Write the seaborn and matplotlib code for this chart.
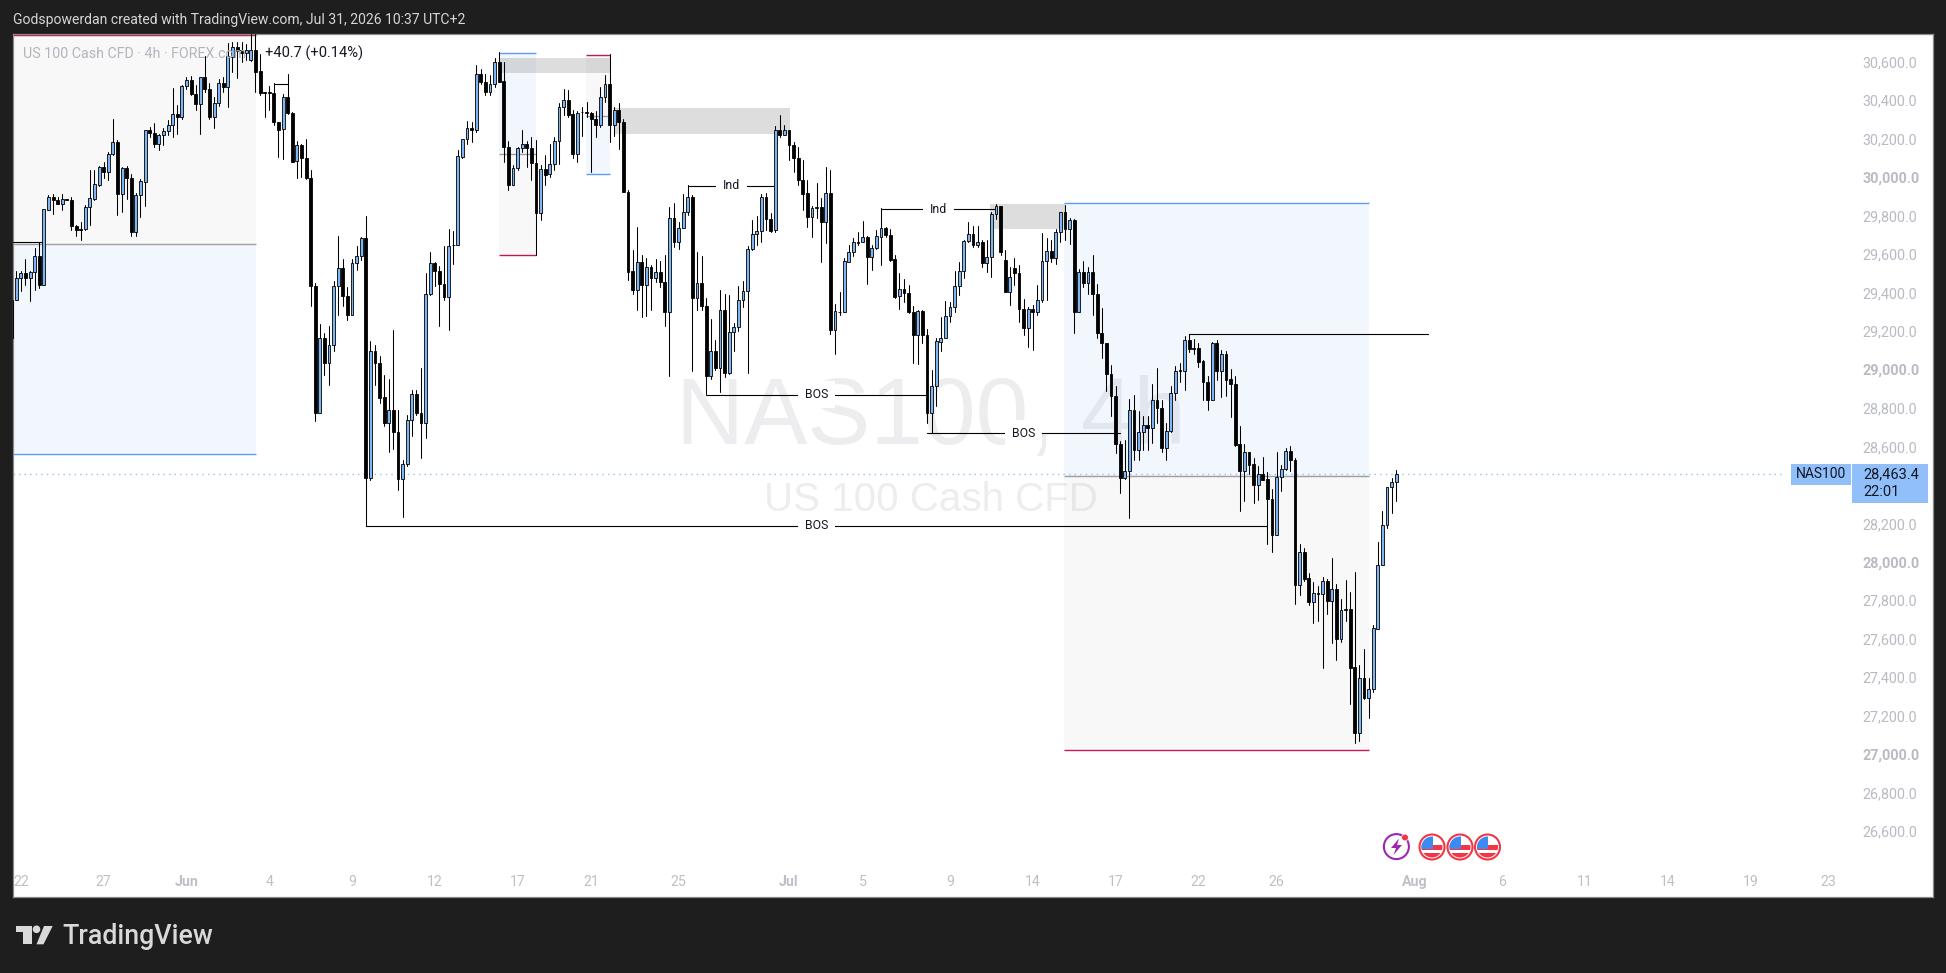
import numpy as np
import pandas as pd
import matplotlib
matplotlib.use("Agg")
import matplotlib.pyplot as plt
from matplotlib.patches import Rectangle, Circle, Polygon
from matplotlib.transforms import ScaledTranslation
import seaborn as sns

opens = [
29369,29367,29481,29509,29481,29514,29596,29445,29838,29904,
29887,29866,29894,29890,29755,29738,29738,29852,29895,29968,
30060,30032,30128,30190,29920,30055,30003,29722,29913,29985,
30252,30237,30178,30225,30247,30278,30336,30323,30481,30512,
30438,30386,30528,30466,30320,30393,30497,30476,30634,30686,
30670,30655,30617,30669,30559,30448,30448,30445,30297,30258,
30424,30341,30091,30174,30107,30003,29443,28781,29171,29044,
29135,29440,29535,29388,29292,29559,29596,29691,28443,29102,
29041,28864,28729,28797,28682,28438,28516,28746,28881,28780,
28728,29400,29561,29521,29453,29384,29654,29653,30115,30206,
30263,30251,30545,30505,30453,30491,30606,30509,30167,29965,
30055,30157,30180,30159,30081,29821,30050,30024,30076,30195,
30372,30408,30336,30126,30346,30346,30341,30310,30277,30424,
30491,30277,30358,30294,29933,29519,29422,29566,29445,29540,
29483,29514,29462,29304,29795,29668,29743,29826,29904,29377,
29457,29337,28972,29102,29018,29316,28989,29202,29228,29368,
29415,29634,29710,29727,29904,29790,29732,30251,30225,30252,
30174,30107,29994,29925,29800,29851,29850,29772,29925,29214,
29309,29304,29569,29618,29670,29670,29698,29595,29639,29699,
29743,29708,29582,29389,29427,29405,29306,29185,29311,29188,
28781,28923,29153,29171,29285,29334,29441,29519,29675,29712,
29653,29670,29561,29592,29817,29859,29578,29413,29535,29509,
29322,29221,29322,29304,29367,29571,29623,29588,29722,29826,
29736,29784,29309,29514,29457,29514,29400,29197,29145,28984,
28869,28620,28441,28478,28798,28587,28682,28720,28703,28848,
28807,28602,28686,28885,29004,29001,29162,29119,29119,29053,
28942,28847,29145,29002,29088,28956,28934,28620,28482,28577,
28516,28407,28466,28437,28336,28149,28447,28489,28582,28535,
27889,28057,27922,27801,27846,27839,27906,27806,27865,27608,
27762,27761,27459,27116,27402,27301,27345,27660,27989,28197,
28395,28421]
closes = [
29170,29483,29509,29481,29514,29596,29445,29842,29904,29887,
29866,29894,29890,29752,29731,29731,29852,29899,29972,30062,
30032,30128,30190,29920,30055,30003,29722,29914,29987,30252,
30235,30178,30226,30247,30278,30334,30323,30481,30512,30438,
30386,30528,30464,30318,30393,30497,30474,30639,30686,30666,
30655,30670,30669,30556,30445,30445,30445,30292,30254,30424,
30341,30089,30174,30107,30003,29440,28781,29171,29044,29135,
29441,29535,29388,29292,29561,29597,29691,28443,29102,29041,
28862,28729,28797,28681,28438,28516,28746,28880,28780,28728,
29399,29561,29518,29452,29382,29651,29653,30119,30206,30263,
30251,30543,30505,30453,30491,30606,30505,30167,29965,30055,
30159,30180,30157,30081,29821,30050,30020,30076,30195,30372,
30408,30332,30126,30341,30344,30341,30310,30277,30424,30491,
30277,30358,30292,29933,29517,29422,29566,29445,29540,29483,
29512,29462,29304,29795,29668,29743,29826,29904,29377,29457,
29336,28972,29102,29018,29316,28989,29202,29228,29368,29415,
29634,29710,29727,29904,29790,29729,30251,30225,30252,30173,
30105,29991,29921,29800,29847,29846,29772,29925,29214,29311,
29304,29573,29618,29670,29666,29698,29595,29639,29703,29743,
29705,29578,29386,29427,29403,29304,29185,29313,29185,28781,
28923,29155,29171,29285,29334,29441,29521,29675,29712,29653,
29670,29561,29592,29817,29859,29621,29413,29486,29509,29322,
29221,29322,29304,29368,29571,29623,29588,29722,29824,29736,
29784,29309,29514,29457,29514,29400,29197,29145,28984,28868,
28620,28441,28481,28798,28587,28682,28720,28703,28848,28807,
28602,28689,28885,29001,29001,29162,29115,29115,29049,28942,
28847,29145,29002,29088,28954,28934,28616,28482,28577,28513,
28407,28466,28435,28336,28149,28447,28489,28582,28535,27889,
28057,27920,27801,27844,27842,27906,27806,27865,27608,27755,
27759,27457,27116,27402,27301,27345,27662,27989,28197,28395,
28421,28463]
highs = [
29400,29518,29518,29582,29518,29639,29670,29842,29916,29920,
29907,29921,29894,29904,29757,29777,29864,30046,30043,30067,
30084,30141,30311,30202,30060,30067,30025,29925,29998,30254,
30266,30289,30233,30263,30303,30471,30382,30488,30531,30535,
30488,30528,30639,30497,30424,30517,30531,30704,30709,30709,
30709,30700,30760,30760,30649,30453,30483,30497,30297,30441,
30545,30344,30197,30181,30207,30043,29457,29245,29197,29235,
29466,29703,29582,29436,29582,29651,29696,29807,29157,29136,
29079,28980,28958,29214,28798,28535,28772,28902,28901,29014,
29508,29618,29566,29544,29648,29739,29726,30150,30207,30301,
30294,30592,30571,30545,30540,30627,30656,30606,30197,30072,
30167,30254,30197,30216,30202,30072,30122,30180,30216,30393,
30466,30459,30355,30353,30372,30398,30344,30353,30476,30540,
30647,30372,30393,30311,29939,29627,29751,29601,29587,29552,
29583,29573,29601,29855,29873,29772,29920,29965,29916,29618,
29599,29379,29270,29159,29422,29401,29396,29252,29443,29469,
29651,29786,29807,29921,29925,29821,30275,30329,30280,30254,
30190,30164,30095,29994,29859,29976,29899,30060,30046,29349,
29410,29587,29656,29692,29725,29781,29703,29653,29734,29847,
29748,29737,29604,29509,29478,29445,29339,29315,29318,29218,
29006,29174,29280,29365,29358,29521,29566,29682,29774,29755,
29755,29682,29679,29829,29869,29859,29630,29543,29587,29552,
29374,29335,29344,29448,29717,29691,29679,29738,29829,29864,
29795,29790,29530,29573,29543,29604,29453,29327,29148,29032,
28923,28634,28639,28854,28876,28790,28764,28767,28932,29017,
28850,28732,28923,29024,29041,29183,29192,29167,29145,29058,
28972,29150,29161,29107,29103,29008,28972,28715,28620,28577,
28546,28508,28551,28473,28385,28577,28511,28598,28610,28546,
28100,28080,27948,27901,27884,27927,27918,28028,27892,27814,
27913,27851,27953,27471,27554,27402,27677,28111,28272,28395,
28442,28485]
lows = [
29150,29367,29414,29448,29362,29419,29431,29445,29835,29817,
29866,29838,29890,29734,29703,29679,29734,29760,29887,29963,
30003,29991,30124,29812,29829,29895,29700,29703,29803,29856,
30219,30167,30147,30176,30228,30214,30233,30310,30466,30434,
30358,30233,30452,30310,30263,30379,30453,30375,30552,30523,
30608,30615,30612,30452,30436,30323,30355,30280,30115,30102,
30337,30084,30003,30011,29998,29339,28738,28781,28980,28928,
29102,29292,29336,29263,29292,29526,29578,28192,28431,28928,
28836,28712,28577,28596,28379,28239,28504,28660,28771,28546,
28650,29396,29443,29235,29367,29211,29557,29653,30105,30181,
30188,30240,30493,30436,30436,30479,30500,30084,29942,29965,
30043,30136,30063,29994,29604,29783,29968,30006,30043,30077,
30332,30323,30107,30084,30223,30323,30032,30216,30266,30396,
30188,30223,30155,29928,29474,29401,29315,29278,29287,29315,
29465,29434,29232,28972,29642,29634,29743,29809,28998,29315,
29315,28880,28958,29006,28892,28968,28985,29102,29206,29332,
28989,29630,29656,29673,29734,29725,29720,30216,30225,30098,
30032,29965,29835,29751,29696,29794,29569,29665,29193,29089,
29292,29304,29568,29599,29656,29668,29453,29526,29634,29552,
29696,29573,29379,29323,29361,29301,29044,29037,29145,28729,
28677,28816,29105,29171,29254,29306,29396,29483,29673,29647,
29647,29538,29514,29491,29790,29604,29408,29342,29448,29257,
29185,29127,29107,29292,29356,29367,29569,29557,29668,29679,
29661,29200,29309,29434,29401,29289,29171,29070,28894,28764,
28573,28368,28438,28235,28538,28538,28590,28590,28625,28729,
28578,28535,28682,28850,28945,28899,29101,29088,29023,28850,
28795,28847,28954,28863,28869,28759,28610,28274,28326,28464,
28315,28331,28435,28100,28060,28149,28376,28485,28480,27788,
27835,27908,27783,27691,27700,27457,27736,27587,27497,27593,
27702,27268,27064,27078,27296,27197,27333,27657,27989,28185,
28263,28326]

price_ticks = [30600,30400,30200,30000,29800,29600,29400,29200,29000,28800,28600,
               28200,28000,27800,27600,27400,27200,27000,26800,26600]
bold_prices = [30000,29000,28000,27000]
date_positions = [2,20,38,56,74,92,110,126,145,169,185,204,222,240,258,275,305,324,342,360,378,395]
date_labels = ["22","27","Jun","4","9","12","17","21","25","Jul","5","9","14","17","22","26","Aug","6","11","14","19","23"]
bold_dates = ["Jun","Jul","Aug"]

# position tools: (start, end, top, middle, bottom, colour above, colour below, line colours)
BLUE_F, GREY_F = "#F2F7FE", "#F8F8F8"
RED_L, BLUE_L, MID_L = "#C2185B", "#5B9CF6", "#9E9E9E"
pos_start = [0.35, 105.9, 124.85, 228.8]
pos_end   = [53.07, 114.04, 130.0, 295.0]
pos_top   = [30745, 30652, 30642, 29872]
pos_mid   = [29659, 30127, 30328, 28453]
pos_bot   = [28567, 29602, 30023, 27028]
pos_upper = [GREY_F, BLUE_F, GREY_F, BLUE_F]
pos_lower = [BLUE_F, GREY_F, BLUE_F, GREY_F]
pos_topc  = [RED_L, BLUE_L, RED_L, BLUE_L]
pos_botc  = [BLUE_L, RED_L, BLUE_L, RED_L]

zone_start = [105.9, 130.85, 212.7]
zone_end   = [130.0, 169.2, 228.9]
zone_top   = [30628, 30368, 29869]
zone_bot   = [30547, 30234, 29739]

level_start = [0.35, 57, 147, 189, 151, 199, 77, 256]
level_end   = [7, 60, 166, 214, 199, 241, 273, 308]
level_price = [29669, 30491, 29964, 29841, 28877, 28676, 28196, 29192]
level_label = ["", "", "Ind", "Ind", "BOS", "BOS", "BOS", ""]

last_price = 28463.4

sns.set_theme(style="white", rc={"axes.grid": False})
plt.rcParams["font.family"] = ["Roboto", "DejaVu Sans"]

DARK = "#1E1E1E"
W, H = 1946, 973
fig = plt.figure(figsize=(W/100, H/100), dpi=100, facecolor=DARK)
L, R, T, B = 13.3, 1932.5, 34.0, 897.0
ax = fig.add_axes([L/W, 1-B/H, (R-L)/W, (B-T)/H], facecolor="white")

for a, b, t, m, c, cu, cl, tc, bc in zip(pos_start, pos_end, pos_top, pos_mid, pos_bot,
                                         pos_upper, pos_lower, pos_topc, pos_botc):
    ax.add_patch(Rectangle((a, m), b-a, t-m, fc=cu, ec="none", zorder=1))
    ax.add_patch(Rectangle((a, c), b-a, m-c, fc=cl, ec="none", zorder=1))
    ax.hlines(t, a, b, color=tc, lw=1.0, zorder=2)
    ax.hlines(m, a, b, color=MID_L, lw=1.0, zorder=2)
    ax.hlines(c, a, b, color=bc, lw=1.0, zorder=2)

for a, b, t, c in zip(zone_start, zone_end, zone_top, zone_bot):
    ax.add_patch(Rectangle((a, c), b-a, t-c, fc="#787878", alpha=0.25, ec="none", zorder=2))

ax.text(199.8, 28750, "NAS100, 4h", color="#787B86", alpha=0.13, fontsize=68, ha="center", va="center",
        family=["Liberation Sans", "DejaVu Sans"], zorder=1.5)
ax.text(199.8, 28329, "US 100 Cash CFD", color="#787B86", alpha=0.13, fontsize=29, ha="center", va="center",
        family=["Liberation Sans", "DejaVu Sans"], zorder=1.5)

ax.hlines(last_price, 0.35, 385.2, color="#90BFF9", lw=1.0, linestyles=(0, (1, 3)), zorder=2.5)

# level lines through seaborn
lev = pd.DataFrame({
    "x": [v for pair in zip(level_start, level_end) for v in pair],
    "p": [v for v in level_price for _ in (0, 1)],
    "id": [k for k in range(len(level_price)) for _ in (0, 1)],
})
sns.lineplot(data=lev, x="x", y="p", units="id", estimator=None, color="black", lw=0.8,
             legend=False, ax=ax, zorder=3, errorbar=None)
for a, b, p, s in zip(level_start, level_end, level_price, level_label):
    if s:
        ax.text((a+b)/2, p, s, fontsize=8.8, color="#131722", ha="center", va="center", zorder=3.2,
                bbox=dict(fc="white", ec="none", pad=5, alpha=1))

# candles
idx = np.arange(len(opens))
o, h, l, c = map(np.array, (opens, highs, lows, closes))
wick = pd.DataFrame({
    "x": np.repeat(idx, 2),
    "p": np.column_stack([l, h]).ravel(),
    "id": np.repeat(idx, 2),
})
sns.lineplot(data=wick, x="x", y="p", units="id", estimator=None, color="black", lw=0.75,
             legend=False, ax=ax, zorder=4, errorbar=None)
up = c >= o
ax.bar(idx[up], (c-o)[up], bottom=o[up], width=0.62, color="#7FB5F5", edgecolor="black", linewidth=0.6, zorder=5)
ax.bar(idx[~up], (o-c)[~up], bottom=c[~up], width=0.62, color="black", edgecolor="black", linewidth=0.6, zorder=5)

ax.set_xlim(0.348, 417.6)
ax.set_ylim(26265, 30752)
ax.set_xlabel("")
ax.set_ylabel("")
ax.yaxis.tick_right()
ax.set_yticks(price_ticks)
ax.set_yticklabels([f"{v:,.1f}" for v in price_ticks])
ax.set_xticks(date_positions)
ax.set_xticklabels(date_labels)
ax.tick_params(axis="y", length=0, pad=-50.6, labelsize=10.4, labelcolor="#B8BBC4")
ax.tick_params(axis="x", length=0, pad=-15.8, labelsize=10.2, labelcolor="#BDC0C8")
lift = ScaledTranslation(0, 1.5/100, fig.dpi_scale_trans)
for lab, v in zip(ax.get_yticklabels(), price_ticks):
    lab.set_ha("left")
    lab.set_transform(lab.get_transform() + lift)
    if v in bold_prices:
        lab.set_fontweight("bold")
for lab in ax.get_xticklabels():
    if lab.get_text() in bold_dates:
        lab.set_fontweight("bold")
for s in ax.spines.values():
    s.set_visible(True)
    s.set_color("#8A8A8A")
    s.set_linewidth(0.9)

# overlay drawn in figure pixels for the chrome
ov = fig.add_axes([0, 0, 1, 1], facecolor="none", zorder=10)
ov.set_xlim(0, W)
ov.set_ylim(H, 0)
ov.axis("off")

ov.text(13.3, 20, "Godspowerdan created with TradingView.com, Jul 31, 2026 10:37 UTC+2",
        color="#D6D6D6", fontsize=10.1, va="center", ha="left")
ov.text(22.8, 53.5, "US 100 Cash CFD · 4h · FOREX.com", color="#B2B5BE", fontsize=10.3, va="center", ha="left")
ov.text(265, 53.5, "+40.7 (+0.14%)", color="#131722", fontsize=10.5, va="center", ha="left")

LBL = "#90BFF9"
ov.add_patch(Rectangle((1791, 464), 60, 21, fc=LBL, ec="none"))
ov.add_patch(Rectangle((1852, 464), 76, 39, fc=LBL, ec="none"))
ov.text(1796, 474.5, "NAS100", color="#131722", fontsize=10, va="center", ha="left")
ov.text(1863, 474, "28,463.4", color="#131722", fontsize=10.5, va="center", ha="left")
ov.text(1863, 492, "22:01", color="#131722", fontsize=10.5, va="center", ha="left")

# event icons
PUR = "#9C27B0"
FR = "#F23645"
ov.add_patch(Circle((1396.4, 846.6), 12.5, fc="white", ec=PUR, lw=1.5))
ov.add_patch(Polygon([(1399, 838.5), (1391, 848), (1396, 848), (1393.5, 855), (1402, 845), (1397, 845)],
                     closed=True, fc=PUR, ec="none"))
ov.add_patch(Circle((1405, 837.5), 3.4, fc=FR, ec="white", lw=0.5))
for cx in (1432, 1460, 1487.5):
    clip = Circle((cx, 847), 10.5, transform=ov.transData)
    ov.add_patch(Circle((cx, 847), 12.5, fc="white", ec=FR, lw=1.5))
    for yy, hh, xx, ww, col in [(844.5, 5, cx-13, 26, FR), (853, 5, cx-13, 26, FR), (836, 13, cx-12, 12.5, "#3D8BF0")]:
        r = Rectangle((xx, yy), ww, hh, fc=col, ec="none")
        ov.add_patch(r)
        r.set_clip_path(clip)

# TradingView logo
LOGO = "#D9D9D9"
ov.add_patch(Polygon([(15.8, 926), (31.5, 926), (31.5, 944.3), (23.2, 944.3), (23.2, 932), (15.8, 932)],
                     closed=True, fc=LOGO, ec="none"))
ov.add_patch(Circle((36.5, 929.3), 3.8, fc=LOGO, ec="none"))
ov.add_patch(Polygon([(44, 926), (52.7, 926), (43.5, 944.3), (36.5, 944.3)], closed=True, fc=LOGO, ec="none"))
ov.text(62, 936, "TradingView", color=LOGO, fontsize=19.3, fontweight="medium", va="center", ha="left")

fig.savefig("out.png", dpi=100, facecolor=DARK)
